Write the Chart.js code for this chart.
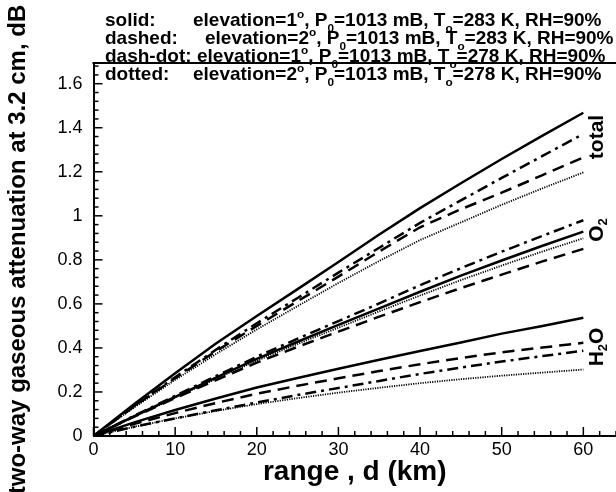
<!DOCTYPE html>
<html>
<head>
<meta charset="utf-8">
<script src="https://cdn.jsdelivr.net/npm/chart.js@4.4.1/dist/chart.umd.min.js"></script>
<style>
  html, body { margin: 0; padding: 0; background: #fff; overflow: hidden; }
  #grafico { display: block; }
</style>
</head>
<body>
<canvas id="grafico" width="616" height="492"></canvas>
<script>
// distancia (km)
const range = [0, 5, 10, 15, 20, 25, 30, 35, 40, 45, 50, 55, 60];
const xTicks = [0, 10, 20, 30, 40, 50, 60];
const yTicks = [0, 0.2, 0.4, 0.6, 0.8, 1, 1.2, 1.4, 1.6];

// atenuacao total
const totalSolid   = [0, 0.145, 0.285, 0.42, 0.545, 0.667, 0.79, 0.915, 1.035, 1.148, 1.258, 1.364, 1.468];
const totalDashed  = [0, 0.135, 0.263, 0.385, 0.5, 0.612, 0.724, 0.838, 0.948, 1.03, 1.105, 1.185, 1.265];
const totalDashDot = [0, 0.137, 0.267, 0.392, 0.512, 0.627, 0.742, 0.855, 0.968, 1.07, 1.172, 1.272, 1.372];
const totalDotted  = [0, 0.13, 0.255, 0.372, 0.484, 0.59, 0.695, 0.795, 0.89, 0.97, 1.05, 1.125, 1.197];

// O2
const o2Solid   = [0, 0.09, 0.178, 0.265, 0.35, 0.428, 0.505, 0.58, 0.655, 0.728, 0.797, 0.864, 0.928];
const o2Dashed  = [0, 0.088, 0.172, 0.254, 0.333, 0.405, 0.474, 0.542, 0.608, 0.672, 0.733, 0.793, 0.85];
const o2DashDot = [0, 0.092, 0.182, 0.272, 0.36, 0.442, 0.522, 0.602, 0.685, 0.762, 0.837, 0.909, 0.98];
const o2Dotted  = [0, 0.088, 0.174, 0.26, 0.342, 0.418, 0.492, 0.566, 0.638, 0.708, 0.774, 0.838, 0.898];

// H2O
const h2oSolid   = [0, 0.062, 0.118, 0.17, 0.22, 0.263, 0.305, 0.346, 0.386, 0.425, 0.465, 0.5, 0.537];
const h2oDashed  = [0, 0.055, 0.104, 0.15, 0.192, 0.228, 0.262, 0.295, 0.326, 0.354, 0.38, 0.402, 0.423];
const h2oDashDot = [0, 0.042, 0.08, 0.117, 0.152, 0.186, 0.218, 0.25, 0.282, 0.311, 0.338, 0.363, 0.387];
const h2oDotted  = [0, 0.042, 0.08, 0.114, 0.145, 0.172, 0.197, 0.219, 0.24, 0.258, 0.274, 0.288, 0.302];

// legenda
const styleNames = ['solid:', 'dashed:', 'dash-dot:', 'dotted:'];
const elevations = [1, 2, 1, 2];
const temperatures = [283, 283, 278, 278];
const pressure = 1013;
const humidity = 90;

const FONTE = '"Liberation Sans", Arial, Helvetica, sans-serif';

// estilos de linha: solido, tracejado, traco-ponto, pontilhado
const estilos = {
    solid:   { borderDash: [], borderWidth: 2.5 },
    dashed:  { borderDash: [12, 7], borderWidth: 2.5 },
    dashDot: { borderDash: [11, 5, 3, 5], borderWidth: 2.5 },
    dotted:  { borderDash: [1.2, 1.2], borderWidth: 1.8 }
};

function serie(nome, valores, estilo) {
    return {
        label: nome,
        data: range.map((d, i) => ({ x: d, y: valores[i] })),
        borderColor: '#000',
        backgroundColor: '#000',
        pointRadius: 0,
        fill: false,
        tension: 0,
        ...estilos[estilo]
    };
}

// texto com sub/sobrescrito
function textoRico(ctx, x, y, partes, size) {
    let cx = x;
    partes.forEach(p => {
        const s = (p.sub || p.sup) ? size * 0.62 : size;
        ctx.font = `bold ${s}px ${FONTE}`;
        const dy = p.sub ? size * 0.3 : (p.sup ? -size * 0.42 : 0);
        ctx.fillText(p.t, cx, y + dy);
        cx += ctx.measureText(p.t).width;
    });
    return cx - x;
}

function larguraRica(ctx, partes, size) {
    let w = 0;
    partes.forEach(p => {
        const s = (p.sub || p.sup) ? size * 0.62 : size;
        ctx.font = `bold ${s}px ${FONTE}`;
        w += ctx.measureText(p.t).width;
    });
    return w;
}

function rotuloVertical(ctx, cx, cy, partes, size) {
    ctx.save();
    ctx.translate(cx, cy);
    ctx.rotate(-Math.PI / 2);
    ctx.textBaseline = 'middle';
    ctx.textAlign = 'left';
    const w = larguraRica(ctx, partes, size);
    textoRico(ctx, -w / 2, 0, partes, size);
    ctx.restore();
}

const pluginExtras = {
    id: 'extras',
    afterDraw(chart) {
        const ctx = chart.ctx;
        const area = chart.chartArea;
        const sx = chart.scales.x;
        const sy = chart.scales.y;

        ctx.save();
        ctx.strokeStyle = '#000';
        ctx.fillStyle = '#000';

        // linha superior do quadro
        ctx.lineWidth = 2;
        ctx.beginPath();
        ctx.moveTo(area.left - 1, area.top);
        ctx.lineTo(chart.width, area.top);
        ctx.stroke();

        // marcas internas eixo x
        ctx.lineWidth = 1.5;
        for (let v = 0; v <= 64; v += 2) {
            const px = sx.getPixelForValue(v);
            const len = v % 10 === 0 ? 9 : 5;
            ctx.beginPath();
            ctx.moveTo(px, area.bottom);
            ctx.lineTo(px, area.bottom - len);
            ctx.stroke();
        }
        // marcas internas eixo y
        for (let i = 0; i <= 42; i++) {
            const v = i * 0.04;
            const py = sy.getPixelForValue(v);
            const len = i % 5 === 0 ? 9 : 5;
            ctx.beginPath();
            ctx.moveTo(area.left, py);
            ctx.lineTo(area.left + len, py);
            ctx.stroke();
        }

        // legenda em texto
        const baseY = [26, 44, 62, 80];
        const elevX = [193, 205, 197, 193];
        ctx.textBaseline = 'alphabetic';
        ctx.textAlign = 'left';
        styleNames.forEach((nome, i) => {
            ctx.font = `bold 19px ${FONTE}`;
            ctx.fillText(nome, 105, baseY[i]);
            textoRico(ctx, elevX[i], baseY[i], [
                { t: `elevation=${elevations[i]}` },
                { t: 'o', sup: true },
                { t: ', P' },
                { t: '0', sub: true },
                { t: `=${pressure} mB, T` },
                { t: 'o', sub: true },
                { t: `=${temperatures[i]} K, RH=${humidity}%` }
            ], 19);
        });

        // rotulos das curvas
        rotuloVertical(ctx, 597, 137, [{ t: 'total' }], 21);
        rotuloVertical(ctx, 597, 230, [{ t: 'O' }, { t: '2', sub: true }], 21);
        rotuloVertical(ctx, 597, 347, [{ t: 'H' }, { t: '2', sub: true }, { t: 'O' }], 21);

        ctx.restore();
    }
};

new Chart(document.getElementById('grafico').getContext('2d'), {
    type: 'line',
    data: {
        datasets: [
            serie('total solid', totalSolid, 'solid'),
            serie('total dashed', totalDashed, 'dashed'),
            serie('total dash-dot', totalDashDot, 'dashDot'),
            serie('total dotted', totalDotted, 'dotted'),
            serie('O2 solid', o2Solid, 'solid'),
            serie('O2 dashed', o2Dashed, 'dashed'),
            serie('O2 dash-dot', o2DashDot, 'dashDot'),
            serie('O2 dotted', o2Dotted, 'dotted'),
            serie('H2O solid', h2oSolid, 'solid'),
            serie('H2O dashed', h2oDashed, 'dashed'),
            serie('H2O dash-dot', h2oDashDot, 'dashDot'),
            serie('H2O dotted', h2oDotted, 'dotted')
        ]
    },
    options: {
        responsive: false,
        animation: false,
        layout: { padding: { left: 0, top: 63, right: 0, bottom: 0 } },
        plugins: {
            legend: { display: false },
            tooltip: { enabled: false }
        },
        scales: {
            x: {
                type: 'linear',
                min: 0,
                max: 64,
                afterBuildTicks: s => { s.ticks = xTicks.map(v => ({ value: v })); },
                afterFit: s => { s.height = 56; },
                grid: { display: false, drawTicks: false },
                border: { display: true, color: '#000', width: 2 },
                ticks: {
                    color: '#000',
                    font: { family: FONTE, size: 18 },
                    padding: 3,
                    maxRotation: 0,
                    autoSkip: false,
                    callback: v => String(v)
                },
                title: {
                    display: true,
                    text: 'range , d (km)',
                    color: '#000',
                    font: { family: FONTE, size: 28, weight: 'bold' },
                    padding: { top: 0, bottom: 3 }
                }
            },
            y: {
                type: 'linear',
                min: 0,
                max: 1.694,
                afterBuildTicks: s => { s.ticks = yTicks.map(v => ({ value: v })); },
                afterFit: s => { s.width = 93.5; },
                grid: { display: false, drawTicks: false },
                border: { display: true, color: '#000', width: 2 },
                ticks: {
                    color: '#000',
                    font: { family: FONTE, size: 18 },
                    padding: 11,
                    autoSkip: false,
                    callback: v => String(+v.toFixed(2))
                },
                title: {
                    display: true,
                    text: 'two-way gaseous attenuation at 3.2 cm, dB',
                    color: '#000',
                    font: { family: FONTE, size: 24, weight: 'bold' },
                    padding: { top: 4, bottom: 0 }
                }
            }
        }
    },
    plugins: [pluginExtras]
});
</script>
</body>
</html>
